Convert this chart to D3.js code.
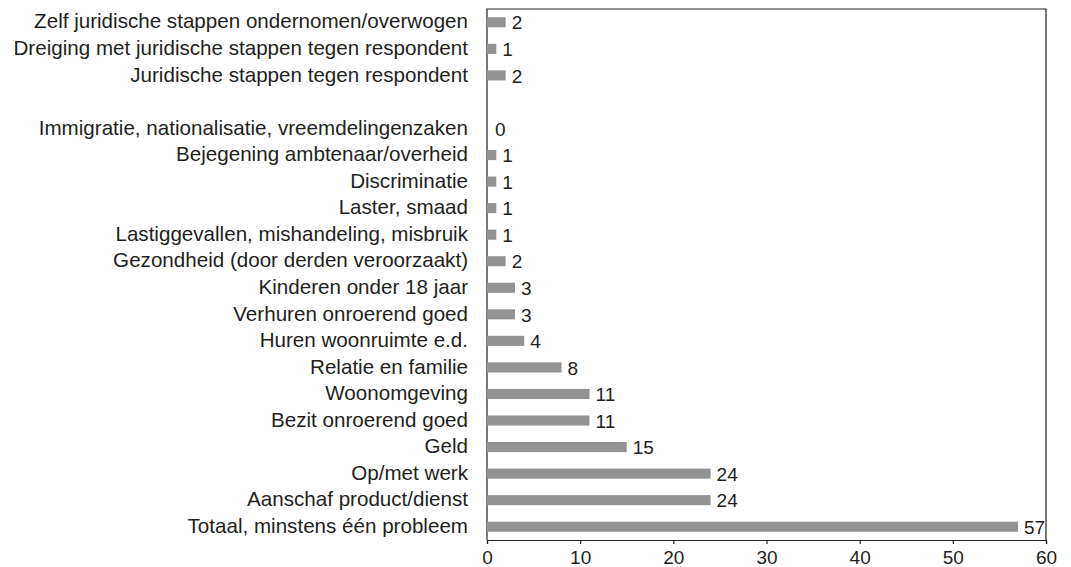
<!DOCTYPE html>
<html>
<head>
<meta charset="utf-8">
<script src="https://cdn.jsdelivr.net/npm/d3@7"></script>
<style>
  body { margin: 0; background: #fff; }
  text { font-family: "Liberation Sans", Arial, sans-serif; fill: #231f20; }
</style>
</head>
<body>
<div id="chart"></div>
<script>
// categories top to bottom; the empty string is the gap row
var categories = [
    "Zelf juridische stappen ondernomen/overwogen",
    "Dreiging met juridische stappen tegen respondent",
    "Juridische stappen tegen respondent",
    "",
    "Immigratie, nationalisatie, vreemdelingenzaken",
    "Bejegening ambtenaar/overheid",
    "Discriminatie",
    "Laster, smaad",
    "Lastiggevallen, mishandeling, misbruik",
    "Gezondheid (door derden veroorzaakt)",
    "Kinderen onder 18 jaar",
    "Verhuren onroerend goed",
    "Huren woonruimte e.d.",
    "Relatie en familie",
    "Woonomgeving",
    "Bezit onroerend goed",
    "Geld",
    "Op/met werk",
    "Aanschaf product/dienst",
    "Totaal, minstens één probleem"
];
var values = [2, 1, 2, null, 0, 1, 1, 1, 1, 2, 3, 3, 4, 8, 11, 11, 15, 24, 24, 57];
var xTicks = [0, 10, 20, 30, 40, 50, 60];

// constants
var width = 1071, height = 567,
    plotLeft = 487, plotRight = 1046, plotTop = 9, plotBottom = 540,
    catSize = "20.6px", numSize = "19px";

var svg = d3.select("#chart").append("svg")
    .attr("width", width)
    .attr("height", height);

var x = d3.scaleLinear().domain([0, 60]).range([plotLeft, plotRight]);
var y = d3.scaleBand().domain(d3.range(categories.length))
    .range([plotTop, plotBottom]).paddingInner(0.62).paddingOuter(0.31);

// frame
svg.append("path")
    .attr("d", "M" + plotLeft + "," + plotBottom + "V" + plotTop + "H" + plotRight + "V" + plotBottom)
    .attr("fill", "none")
    .attr("stroke", "#231f20")
    .attr("stroke-width", 1.2);

var xAxis = svg.append("g")
    .attr("transform", "translate(0," + plotBottom + ")")
    .call(d3.axisBottom(x).tickValues(xTicks).tickSize(4).tickPadding(7));
xAxis.select(".domain").attr("stroke", "#231f20").attr("stroke-width", 1.2);
xAxis.selectAll(".tick line").attr("stroke", "#231f20").attr("stroke-width", 1.2);
xAxis.selectAll("text").style("font-size", numSize)
    .style("font-family", "'Liberation Sans', Arial, sans-serif").attr("fill", "#231f20");

var rows = categories.map(function (c, i) { return {cat: c, val: values[i], i: i}; });
var filled = rows.filter(function (d) { return d.val !== null; });

svg.selectAll("rect.bar")
    .data(filled)
    .enter().append("rect")
    .attr("class", "bar")
    .attr("x", x(0))
    .attr("y", function (d) { return y(d.i); })
    .attr("width", function (d) { return x(d.val) - x(0); })
    .attr("height", y.bandwidth())
    .attr("fill", "#939393");

svg.selectAll("text.val")
    .data(filled)
    .enter().append("text")
    .attr("class", "val")
    .attr("x", function (d) { return x(d.val) + (d.val === 0 ? 8 : 6); })
    .attr("y", function (d) { return y(d.i) + y.bandwidth() / 2; })
    .attr("dy", "0.38em")
    .style("font-size", numSize)
    .text(function (d) { return d.val; });

svg.selectAll("text.cat")
    .data(rows.filter(function (d) { return d.cat !== ""; }))
    .enter().append("text")
    .attr("class", "cat")
    .attr("x", plotLeft - 19)
    .attr("y", function (d) { return y(d.i) + y.bandwidth() / 2; })
    .attr("dy", "0.3em")
    .attr("text-anchor", "end")
    .style("font-size", catSize)
    .text(function (d) { return d.cat; });
</script>
</body>
</html>
